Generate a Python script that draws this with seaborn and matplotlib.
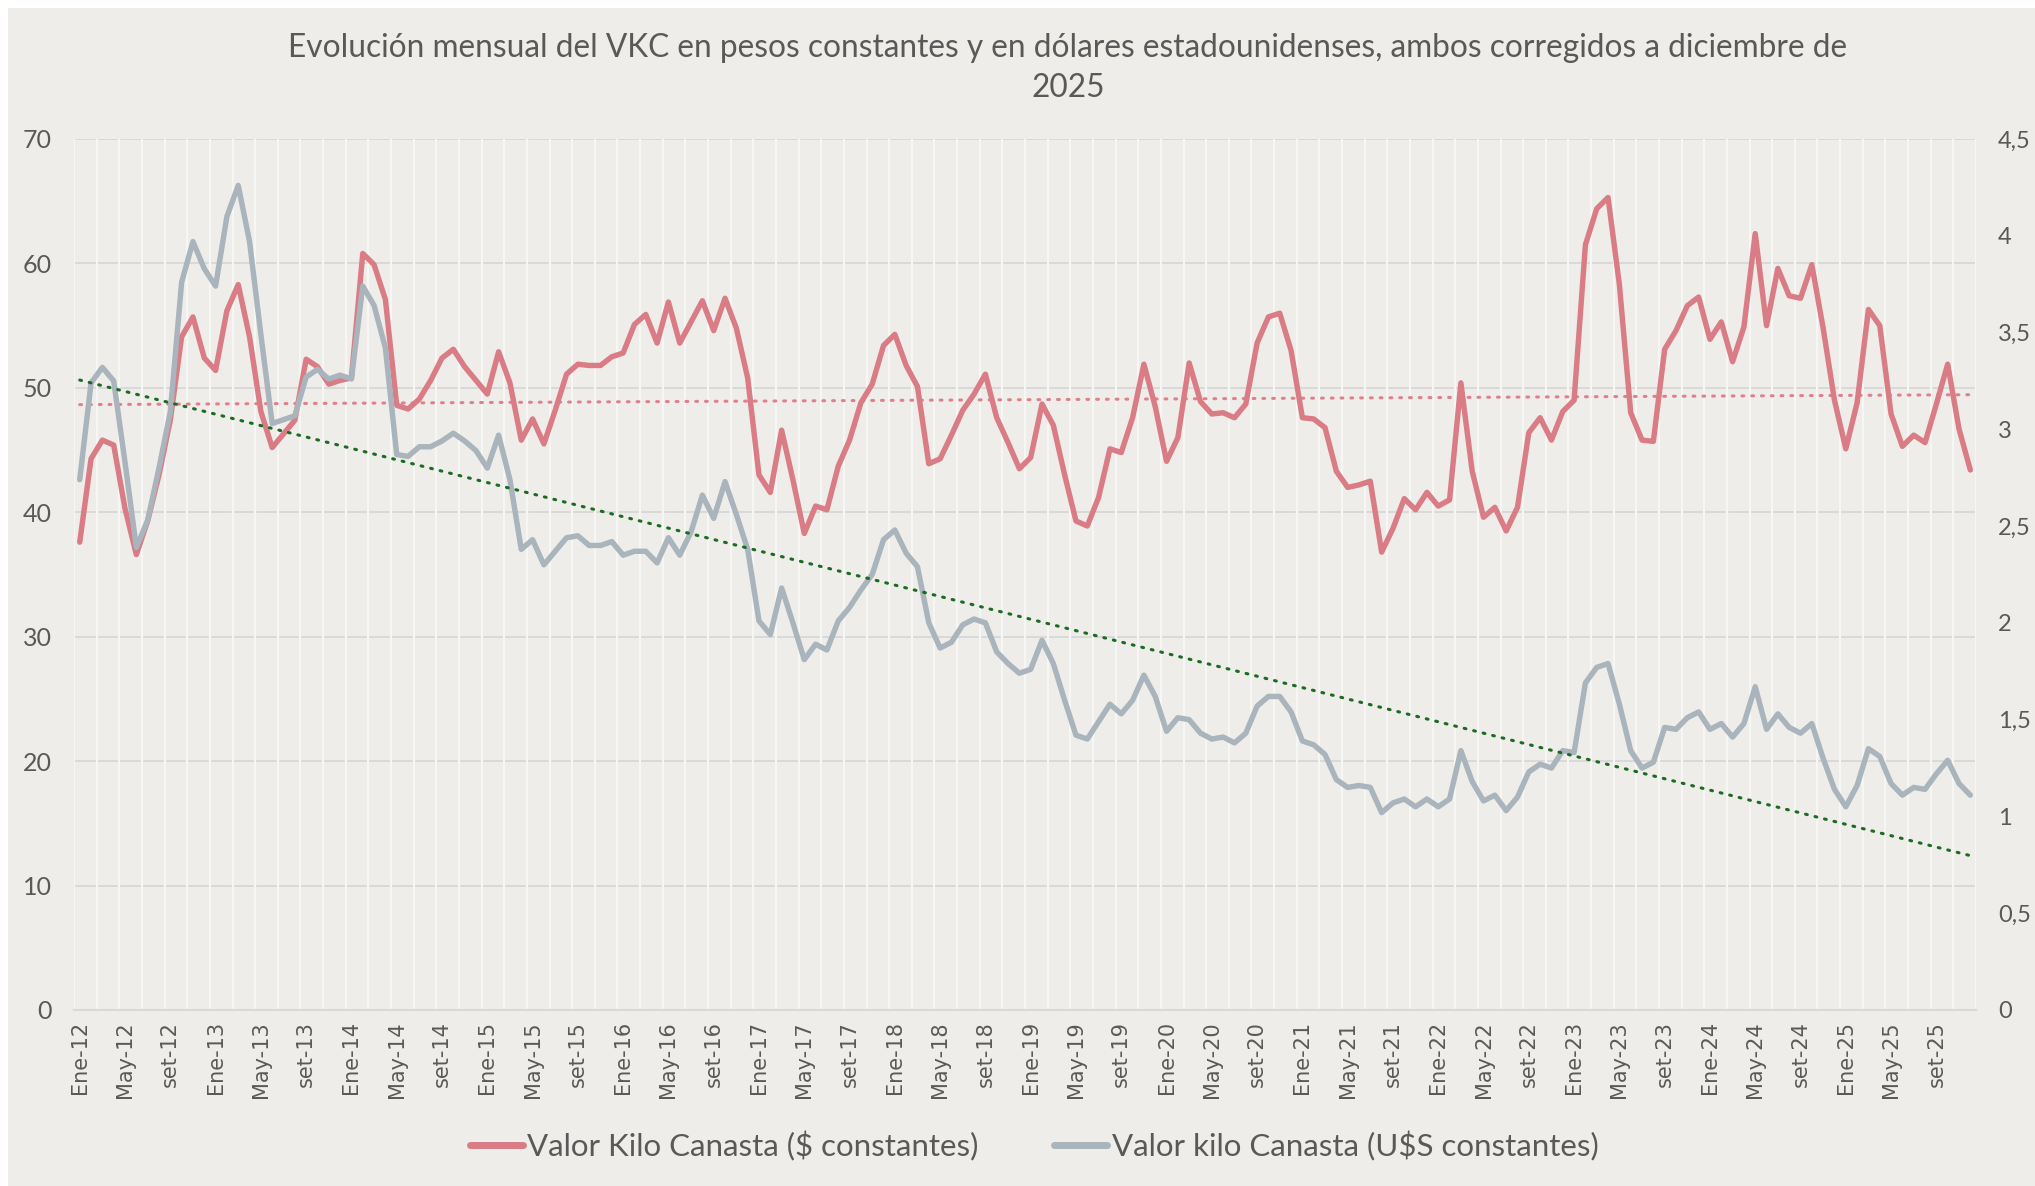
import numpy as np
import pandas as pd
import seaborn as sns
import matplotlib.pyplot as plt
from matplotlib.patches import Rectangle

# ---------------------------------------------------------
# Daten (monatlich, Ene-12 .. Dic-25)
# ---------------------------------------------------------
meses = ["Ene", "Feb", "Mar", "Abr", "May", "Jun", "Jul", "Ago", "set", "Oct", "Nov", "Dic"]
anios = list(range(12, 26))
etiquetas = [f"{m}-{a}" for a in anios for m in meses]

vkc_pesos = [
    37.6, 44.3, 45.8, 45.4, 40.3, 36.6, 39.3, 43.0, 47.4, 54.1, 55.7, 52.4, 51.4, 56.2, 58.3, 54.1,
    48.1, 45.2, 46.3, 47.4, 52.3, 51.7, 50.3, 50.6, 50.8, 60.8, 59.9, 57.1, 48.6,
    48.3, 49.1, 50.6, 52.4, 53.1, 51.7, 50.6, 49.5, 52.9, 50.4, 45.8, 47.5, 45.5, 48.2, 51.1, 51.9,
    51.8, 51.8, 52.5, 52.8, 55.1, 55.9, 53.6, 56.9, 53.6, 55.3, 57.0, 54.6, 57.2,
    54.8, 50.8, 43.0, 41.6, 46.6, 42.6, 38.3, 40.5, 40.2, 43.7, 45.8, 48.8, 50.3, 53.4, 54.3, 51.8,
    50.1, 43.9, 44.3, 46.2, 48.2, 49.5, 51.1, 47.6, 45.6, 43.5, 44.4, 48.7, 47.0,
    43.0, 39.3, 38.9, 41.2, 45.1, 44.8, 47.6, 51.9, 48.5, 44.1, 46.0, 52.0, 48.9, 47.9, 48.0, 47.6,
    48.7, 53.6, 55.7, 56.0, 53.0, 47.6, 47.5, 46.8, 43.3, 42.0, 42.2, 42.5, 36.8,
    38.7, 41.1, 40.2, 41.6, 40.5, 41.0, 50.4, 43.3, 39.6, 40.4, 38.5, 40.4, 46.4, 47.6, 45.8, 48.1,
    49.0, 61.5, 64.4, 65.3, 58.3, 48.0, 45.8, 45.7, 53.1, 54.6, 56.6, 57.3, 53.9,
    55.3, 52.1, 54.9, 62.4, 55.0, 59.6, 57.4, 57.2, 59.9, 54.8, 49.0, 45.1, 48.8, 56.3, 55.0, 47.9,
    45.3, 46.2, 45.6, 48.7, 51.9, 46.7, 43.4,
]

vkc_dolares = [
    2.74, 3.24, 3.32, 3.25, 2.83, 2.39, 2.53, 2.80, 3.09, 3.76, 3.97, 3.83, 3.74, 4.10, 4.26, 3.97,
    3.49, 3.03, 3.05, 3.07, 3.27, 3.31, 3.26, 3.28, 3.26, 3.74, 3.64, 3.42, 2.87,
    2.86, 2.91, 2.91, 2.94, 2.98, 2.94, 2.89, 2.80, 2.97, 2.74, 2.38, 2.43, 2.30, 2.37, 2.44, 2.45,
    2.40, 2.40, 2.42, 2.35, 2.37, 2.37, 2.31, 2.44, 2.35, 2.47, 2.66, 2.54, 2.73,
    2.56, 2.38, 2.01, 1.94, 2.18, 2.00, 1.81, 1.89, 1.86, 2.01, 2.08, 2.17, 2.25, 2.43, 2.48, 2.36,
    2.29, 2.00, 1.87, 1.90, 1.99, 2.02, 2.00, 1.85, 1.79, 1.74, 1.76, 1.91, 1.79,
    1.60, 1.42, 1.40, 1.49, 1.58, 1.53, 1.60, 1.73, 1.62, 1.44, 1.51, 1.50, 1.43, 1.40, 1.41, 1.38,
    1.43, 1.57, 1.62, 1.62, 1.54, 1.39, 1.37, 1.32, 1.19, 1.15, 1.16, 1.15, 1.02,
    1.07, 1.09, 1.05, 1.09, 1.05, 1.09, 1.34, 1.18, 1.08, 1.11, 1.03, 1.10, 1.23, 1.27, 1.25, 1.34,
    1.33, 1.69, 1.77, 1.79, 1.58, 1.34, 1.25, 1.28, 1.46, 1.45, 1.51, 1.54, 1.45,
    1.48, 1.41, 1.48, 1.67, 1.45, 1.53, 1.46, 1.43, 1.48, 1.30, 1.14, 1.05, 1.16, 1.35, 1.31, 1.17,
    1.11, 1.15, 1.14, 1.22, 1.29, 1.17, 1.11,
]

titulo = ("Evolución mensual del VKC en pesos constantes y en dólares estadounidenses, "
          "ambos corregidos a diciembre de\n2025")
nombre_pesos = "Valor Kilo Canasta ($ constantes)"
nombre_dolares = "Valor kilo Canasta (U$S constantes)"

df = pd.DataFrame({"mes": etiquetas, "pesos": vkc_pesos, "dolares": vkc_dolares})
df["x"] = np.arange(len(df))

# ---------------------------------------------------------
# Stil
# ---------------------------------------------------------
sns.set_style("white")
plt.rcParams["font.family"] = ["Lato", "DejaVu Sans"]

fondo = "#EEEDE9"
gris_texto = "#595959"
rojo = "#D97C85"
gris = "#A9B4BC"
verde = "#1B6B22"

fig = plt.figure(figsize=(20.35, 11.86), dpi=100, facecolor="white")
fig.patches.append(Rectangle((8 / 2035, 0), 1, 1 - 8 / 1186, transform=fig.transFigure,
                             facecolor=fondo, edgecolor="none", zorder=-10))

ax = fig.add_axes([0.0364, 0.1484, 0.9346, 0.7344])
ax.set_facecolor(fondo)
ax2 = ax.twinx()

# Linien
sns.lineplot(data=df, x="x", y="pesos", ax=ax, color=rojo, linewidth=3.9,
             label=nombre_pesos, legend=False)
sns.lineplot(data=df, x="x", y="dolares", ax=ax2, color=gris, linewidth=3.9,
             label=nombre_dolares, legend=False)

# lineare Trends
coef_p = np.polyfit(df["x"], df["pesos"], 1)
coef_d = np.polyfit(df["x"], df["dolares"], 1)
ax.plot(df["x"], np.polyval(coef_p, df["x"]), color="#E0808A", linewidth=2.2,
        linestyle=(0, (0.6, 2.6)), dash_capstyle="round", zorder=1)
ax2.plot(df["x"], np.polyval(coef_d, df["x"]), color=verde, linewidth=2.2,
         linestyle=(0, (0.6, 2.6)), dash_capstyle="round", zorder=3)

# Achsen
n = len(df)
ax.set_xlim(-0.5, n - 0.5)
ax.set_ylim(0, 70)
ax2.set_ylim(0, 4.5)
ax.set_yticks(range(0, 71, 10))
ax2.set_yticks(np.arange(0, 4.51, 0.5))
ax2.set_yticklabels([f"{v:g}".replace(".", ",") for v in np.arange(0, 4.51, 0.5)])

ax.set_xticks(df["x"][::4])
ax.set_xticklabels(df["mes"][::4], rotation=90, fontsize=15, color=gris_texto,
                   family="DejaVu Sans")
ax.set_xticks(np.arange(-0.5, n, 4), minor=True)
ax.tick_params(axis="x", which="major", length=0, pad=8)
ax.tick_params(axis="x", which="minor", length=7, color="#D9D9D9", width=1.5)
ax.tick_params(axis="y", length=0, pad=16, labelsize=18, labelcolor=gris_texto)
ax2.tick_params(axis="y", length=0, pad=16, labelsize=17, labelcolor=gris_texto)

ax.set_xlabel("")
ax.set_ylabel("")
ax2.set_ylabel("")

# Gitter
ax.grid(False)
ax2.grid(False)
for v in range(10, 71, 10):
    ax.axhline(v, color="#D9D9D9", linewidth=1.4, zorder=0)
for xv in np.arange(-0.5, n, 2):
    ax.axvline(xv, color="#F6F6F4", linewidth=1.6, zorder=0)

for a in (ax, ax2):
    for s in ("top", "left", "right"):
        a.spines[s].set_visible(False)
    a.spines["bottom"].set_color("#D9D9D9")
    a.spines["bottom"].set_linewidth(1.5)

ax.set_zorder(ax2.get_zorder() - 1)
ax2.patch.set_visible(False)
ax.patch.set_visible(True)

# Titel
fig.text(1068 / 2035, 1 - 68 / 1186, titulo, ha="center", va="center", fontsize=22.8,
         color=gris_texto, linespacing=1.4)

# Legende
h1 = plt.Line2D([], [], color=rojo, linewidth=5)
h2 = plt.Line2D([], [], color=gris, linewidth=5)
fig.legend([h1, h2], [nombre_pesos, nombre_dolares], loc="center",
           bbox_to_anchor=(1034 / 2035, 1 - 1146 / 1186), ncol=2, frameon=False,
           fontsize=22.5, labelcolor=gris_texto, handlelength=1.7, handletextpad=0.15,
           columnspacing=2.4)

fig.savefig("out.png", dpi=100, facecolor=fig.get_facecolor())
